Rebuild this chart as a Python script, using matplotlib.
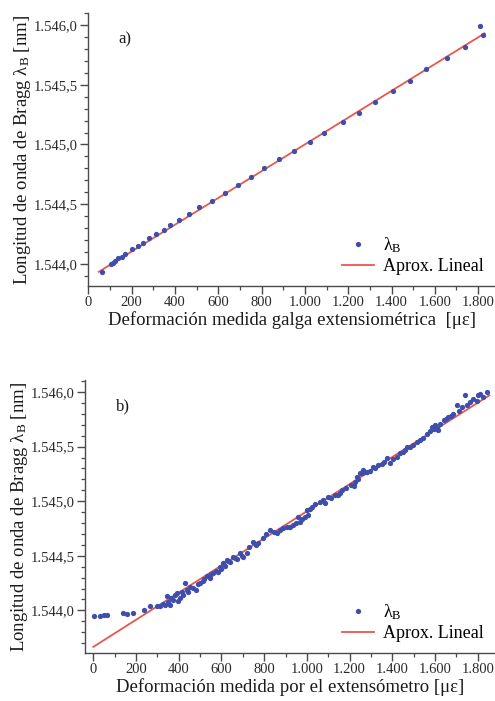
import matplotlib
matplotlib.use("Agg")
import matplotlib.pyplot as plt
from matplotlib.ticker import MultipleLocator, FuncFormatter

plt.rcParams['font.family'] = ['Liberation Serif', 'DejaVu Serif']
plt.rcParams['mathtext.fontset'] = 'custom'
plt.rcParams['mathtext.rm'] = 'Liberation Serif'
plt.rcParams['mathtext.it'] = 'Liberation Serif:italic'

# panel a) - galga extensiometrica
xa = [61, 102, 113, 125, 137, 153, 168, 199, 229, 251, 282, 312, 348, 379, 420,
      466, 512, 570, 629, 690, 752, 810, 879, 948, 1025, 1090, 1176, 1248, 1325,
      1409, 1486, 1560, 1655, 1740, 1809, 1824]
ya = [1543.936, 1543.998, 1544.011, 1544.028, 1544.048, 1544.061, 1544.084,
      1544.123, 1544.151, 1544.178, 1544.215, 1544.249, 1544.285, 1544.326,
      1544.368, 1544.416, 1544.474, 1544.527, 1544.597, 1544.661, 1544.726,
      1544.801, 1544.876, 1544.946, 1545.018, 1545.099, 1545.186, 1545.266,
      1545.358, 1545.448, 1545.534, 1545.629, 1545.721, 1545.818, 1545.994,
      1545.914]
fit_xa = [48, 1830]
fit_ya = [1543.935, 1545.93]

# panel b) - extensometro
xb = [5, 31, 50, 65, 140, 156, 187, 237, 266, 297,
      312, 325, 335, 344, 350, 359, 365, 375, 382, 391, 398, 406, 415, 422, 430,
      437, 445, 455, 468, 480, 490, 500, 512, 520, 531, 545, 553, 562, 575, 584,
      593, 600, 609, 615, 625, 632, 640, 656, 665, 672, 687, 695, 703, 718, 730,
      749, 760, 773, 796, 810, 828, 845, 859, 875, 890, 905, 921, 937, 950, 960,
      968, 975, 992, 999, 1007, 1015, 1023, 1040, 1062, 1075, 1085, 1101, 1115,
      1132, 1145, 1156, 1163, 1185, 1205, 1220, 1226, 1234, 1241, 1249, 1258,
      1265, 1272, 1281, 1295, 1311, 1320, 1335, 1350, 1362, 1374, 1390, 1405,
      1421, 1435, 1452, 1460, 1468, 1485, 1499, 1515, 1530, 1545, 1562, 1575,
      1585, 1593, 1600, 1608, 1616, 1624, 1640, 1652, 1663, 1676, 1686, 1702,
      1712, 1725, 1741, 1752, 1764, 1780, 1795, 1803, 1811, 1825, 1843]
yb = [1543.945, 1543.952, 1543.954, 1543.954, 1543.98, 1543.97, 1543.98,
      1544.006, 1544.04, 1544.04,
      1544.037, 1544.06, 1544.05, 1544.128, 1544.08, 1544.052, 1544.11, 1544.098,
      1544.14, 1544.159, 1544.09, 1544.113, 1544.17, 1544.14, 1544.25, 1544.189,
      1544.17, 1544.21, 1544.204, 1544.19, 1544.24, 1544.25, 1544.27, 1544.29,
      1544.311, 1544.30, 1544.33, 1544.341, 1544.36, 1544.35, 1544.402, 1544.38,
      1544.433, 1544.41, 1544.463, 1544.45, 1544.44, 1544.493, 1544.48, 1544.47,
      1544.524, 1544.50, 1544.493, 1544.524, 1544.58, 1544.63, 1544.60, 1544.615,
      1544.661, 1544.70, 1544.737, 1544.72, 1544.707, 1544.74, 1544.752, 1544.76,
      1544.767, 1544.783, 1544.80, 1544.858, 1544.813, 1544.84, 1544.858,
      1544.92, 1544.874, 1544.93, 1544.95, 1544.97, 1544.995, 1545.01, 1544.981,
      1545.041, 1545.03, 1545.057, 1545.06, 1545.072, 1545.102, 1545.12,
      1545.15, 1545.14, 1545.178, 1545.224, 1545.20, 1545.255, 1545.26,
      1545.285, 1545.27, 1545.270, 1545.28, 1545.315, 1545.30, 1545.331,
      1545.34, 1545.36, 1545.392, 1545.346, 1545.39, 1545.406, 1545.44,
      1545.452, 1545.47, 1545.498, 1545.50, 1545.513, 1545.54, 1545.559,
      1545.58, 1545.620, 1545.64, 1545.680, 1545.66, 1545.696, 1545.67,
      1545.650, 1545.711, 1545.74, 1545.75, 1545.772, 1545.78, 1545.803,
      1545.879, 1545.83, 1545.863, 1545.970, 1545.88, 1545.909, 1545.940,
      1545.92, 1545.970, 1545.985, 1545.95, 1546.000]
fit_xb = [0, 1855]
fit_yb = [1543.666, 1545.97]

xticks = [0, 200, 400, 600, 800, 1000, 1200, 1400, 1600, 1800]
yticks = [1544.0, 1544.5, 1545.0, 1545.5, 1546.0]

dot_color = '#3f4eaa'
line_color = '#e8574f'
spine_color = '#4a4a4a'


def fmt_y(v, pos):
    s = f"{v:,.1f}"
    return s.replace(',', 'X').replace('.', ',').replace('X', '.')


def fmt_x(v, pos):
    return f"{int(round(v)):,}".replace(',', '.')


fig = plt.figure(figsize=(4.95, 7.01), dpi=100)

panels = [
    dict(rect=[88 / 495, 1 - 286 / 701, 1 - 88 / 495, (286 - 13) / 701],
         x=xa, y=ya, fx=fit_xa, fy=fit_ya, xlim=(-2, 1878), ylim=(1543.816, 1546.10),
         tag='a)', xlabel='Deformación medida galga extensiométrica  [με]'),
    dict(rect=[85 / 495, 1 - 653 / 701, 1 - 85 / 495, (653 - 380) / 701],
         x=xb, y=yb, fx=fit_xb, fy=fit_yb, xlim=(-39, 1881), ylim=(1543.61, 1546.11),
         tag='b)', xlabel='Deformación medida por el extensómetro [με]'),
]

for p in panels:
    ax = fig.add_axes(p['rect'])
    ax.plot(p['x'], p['y'], 'o', color=dot_color, ms=3.8, mew=0, label=r'λ$_\mathrm{B}$', zorder=3)
    ax.plot(p['fx'], p['fy'], '-', color=line_color, lw=1.3, label='Aprox. Lineal', zorder=2)
    ax.set_xlim(*p['xlim'])
    ax.set_ylim(*p['ylim'])
    ax.set_xticks(xticks)
    ax.set_yticks(yticks)
    ax.xaxis.set_minor_locator(MultipleLocator(100))
    ax.yaxis.set_minor_locator(MultipleLocator(0.1))
    ax.xaxis.set_major_formatter(FuncFormatter(fmt_x))
    ax.yaxis.set_major_formatter(FuncFormatter(fmt_y))
    for side in ['top', 'right']:
        ax.spines[side].set_visible(False)
    for side in ['left', 'bottom']:
        ax.spines[side].set_color(spine_color)
        ax.spines[side].set_linewidth(1.0)
    ax.tick_params(which='major', direction='out', length=6, width=1.0, color=spine_color,
                   labelsize=10.5, pad=1.5, labelcolor='#2a2a2a')
    ax.tick_params(which='minor', direction='out', length=3, width=0.9, color=spine_color)
    ax.set_xlabel(p['xlabel'], fontsize=13.5, labelpad=1, color='#1a1a1a')
    ax.set_ylabel(r'Longitud de onda de Bragg λ$_\mathrm{B}$ [nm]', fontsize=13.5,
                  labelpad=0, color='#1a1a1a')
    ax.text(0.075, 0.89, p['tag'], transform=ax.transAxes, fontsize=12, color='#1a1a1a')
    ax.legend(loc='lower right', frameon=False, fontsize=13, handlelength=1.8,
              handletextpad=0.5, borderaxespad=0.2, labelspacing=0.15, markerscale=1.0)

fig.savefig('out.png', dpi=100)
